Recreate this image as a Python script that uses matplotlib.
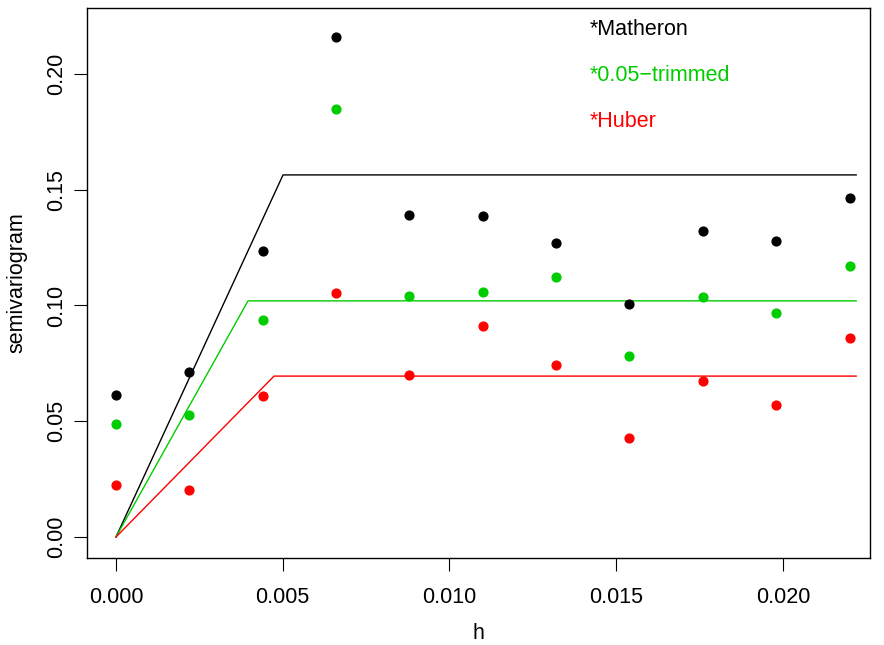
import matplotlib
matplotlib.use("Agg")
import matplotlib.pyplot as plt

plt.rcParams['font.family'] = ['Liberation Sans', 'DejaVu Sans']

# lag distances
h = [0.0, 0.0022, 0.0044, 0.0066, 0.0088, 0.011, 0.0132, 0.0154, 0.0176, 0.0198, 0.022]

# empirical semivariograms
matheron = [0.0613, 0.0713, 0.1235, 0.216, 0.139, 0.1387, 0.127, 0.1006, 0.1322, 0.1279, 0.1464]
trimmed = [0.0488, 0.0527, 0.0937, 0.1849, 0.1041, 0.1058, 0.1123, 0.0782, 0.1037, 0.0968, 0.1171]
huber = [0.0225, 0.0203, 0.0609, 0.1054, 0.070, 0.0911, 0.0743, 0.0428, 0.0674, 0.057, 0.086]

# fitted linear-with-sill models: x break points and y values
fit_x_m = [0.0, 0.00501, 0.0222]
fit_y_m = [0.0, 0.1564, 0.1564]
fit_x_t = [0.0, 0.00396, 0.0222]
fit_y_t = [0.0, 0.1020, 0.1020]
fit_x_h = [0.0, 0.00474, 0.0222]
fit_y_h = [0.0, 0.0695, 0.0695]

green = '#00CD00'
red = '#FF0000'

fig = plt.figure(figsize=(8.84, 6.45), dpi=100)
ax = fig.add_axes([0.0984, 0.1349, 0.8856, 0.8527])

ax.scatter(h, matheron, s=40, color='black', zorder=3)
ax.scatter(h, trimmed, s=40, color=green, zorder=3)
ax.scatter(h, huber, s=40, color=red, zorder=3)

ax.plot(fit_x_m, fit_y_m, color='black', lw=1)
ax.plot(fit_x_t, fit_y_t, color=green, lw=1)
ax.plot(fit_x_h, fit_y_h, color=red, lw=1)

ax.text(0.01421, 0.2191, '*Matheron', color='black', fontsize=15.5, va='center')
ax.text(0.01421, 0.1992, '*0.05\u2212trimmed', color=green, fontsize=15.5, va='center')
ax.text(0.01421, 0.1793, '*Huber', color=red, fontsize=15.5, va='center')

ax.set_xlim(-0.00087, 0.02261)
ax.set_ylim(-0.00907, 0.2285)
ax.set_xticks([0.0, 0.005, 0.010, 0.015, 0.020])
ax.set_xticklabels(['0.000', '0.005', '0.010', '0.015', '0.020'])
ax.set_yticks([0.0, 0.05, 0.10, 0.15, 0.20])
ax.set_yticklabels(['0.00', '0.05', '0.10', '0.15', '0.20'], rotation=90, va='center')
ax.tick_params(direction='out', length=9.5, labelsize=15.5)
ax.tick_params(axis='x', pad=11.5)
ax.tick_params(axis='y', pad=4.5)
ax.set_xlabel('h', fontsize=15.5, va='center')
ax.xaxis.set_label_coords(0.5, -0.138)
ax.set_ylabel('semivariogram', fontsize=15.5, va='center', ha='center')
ax.yaxis.set_label_coords(-0.0894, 0.5)
for s in ax.spines.values():
    s.set_linewidth(1)

fig.savefig('out.png', dpi=100)
